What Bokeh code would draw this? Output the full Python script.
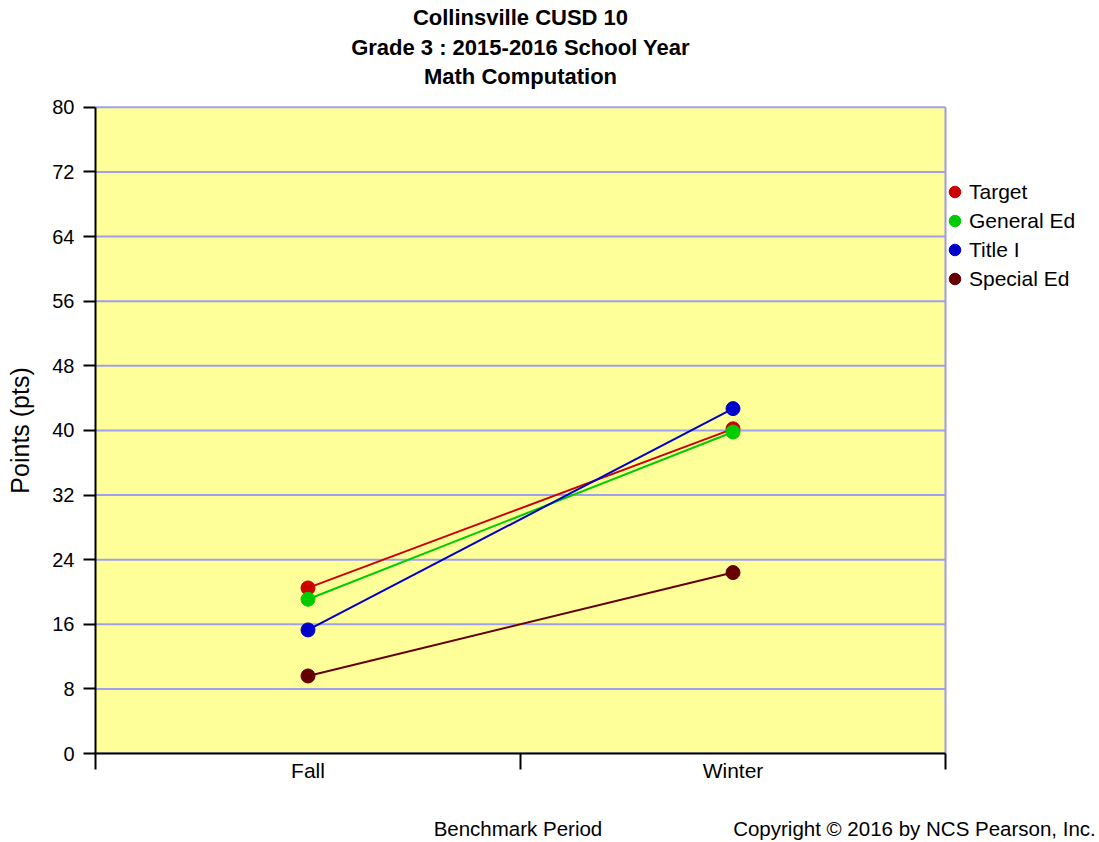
from bokeh.plotting import figure
from bokeh.models import (Range1d, FixedTicker, Legend, LegendItem, LinearAxis, Label,
                          BoxAnnotation)
from bokeh.embed import file_html
from bokeh.resources import INLINE

# ---- data ----
periods = ["Fall", "Winter"]
period_pos = [0.5, 1.5]
period_bounds = [0, 1, 2]
series_names = ["Target", "General Ed", "Title I", "Special Ed"]
target = [20.5, 40.2]
general_ed = [19.1, 39.8]
title_i = [15.3, 42.7]
special_ed = [9.6, 22.4]
series_colors = ["#cc0000", "#00cc00", "#0000cc", "#660000"]
y_ticks = [0, 8, 16, 24, 32, 40, 48, 56, 64, 72, 80]
title_lines = ["Collinsville CUSD 10", "Grade 3 : 2015-2016 School Year", "Math Computation"]
footer_texts = ["Benchmark Period", "Copyright \u00a9 2016 by NCS Pearson, Inc."]
y_title = "Points (pts)"

# ---- layout constants (not data) ----
X_MIN, X_MAX, Y_MIN, Y_MAX = 0, 2, 0, 80
FONT = "Liberation Sans"
W, H = 1099, 842
LEFT, BOTTOM = 95, 88
PLOT_W, PLOT_H = 850, 647          # size of the plotting area in px
x_view_max = X_MAX * (W - LEFT) / PLOT_W      # frame reaches right edge (legend room)
y_view_max = Y_MAX * (H - BOTTOM) / PLOT_H    # frame reaches top edge (title room)
footer_anchor = [0.994, 1.927]     # horizontal anchors of the footer texts, in x units
title_centers_px = [18, 47.5, 77]  # title line centres, px from the top

p = figure(width=W, height=H, x_range=Range1d(X_MIN, x_view_max),
           y_range=Range1d(Y_MIN, y_view_max),
           output_backend="svg", toolbar_location=None,
           min_border_left=LEFT, min_border_right=0, min_border_top=0, min_border_bottom=BOTTOM)
p.background_fill_color = "white"
p.border_fill_color = "white"
p.outline_line_color = None
p.xgrid.visible = False
p.ygrid.visible = False

# plotting area
p.add_layout(BoxAnnotation(left=X_MIN, right=X_MAX, bottom=Y_MIN, top=Y_MAX,
                           fill_color="#ffff99", fill_alpha=1, line_color=None, level="underlay"))
p.segment(x0=[X_MIN] * len(y_ticks), x1=[X_MAX] * len(y_ticks), y0=y_ticks, y1=y_ticks,
          line_color="#a0a0f0", line_width=2)
p.segment(x0=[X_MAX], x1=[X_MAX], y0=[Y_MIN], y1=[Y_MAX], line_color="#9999ee", line_width=2)

# titles
frame_h = H - BOTTOM
for txt, yc in zip(title_lines, title_centers_px):
    p.add_layout(Label(x=PLOT_W / 2, y=frame_h - yc, x_units="screen", y_units="screen",
                       text=txt, text_font=FONT, text_font_size="22px",
                       text_font_style="bold", text_color="black",
                       text_align="center", text_baseline="middle"))

xa = p.xaxis[0]
xa.bounds = (X_MIN, X_MAX)
xa.ticker = FixedTicker(ticks=period_pos, minor_ticks=period_bounds)
xa.major_label_overrides = {pos: name for pos, name in zip(period_pos, periods)}
xa.major_tick_line_color = None
xa.major_tick_out = 0
xa.minor_tick_in = 0
xa.minor_tick_out = 16
xa.minor_tick_line_color = "black"
xa.minor_tick_line_width = 2
xa.axis_line_color = "black"
xa.axis_line_width = 2
xa.major_label_text_font = FONT
xa.major_label_text_font_size = "21px"
xa.major_label_text_color = "black"
xa.major_label_standoff = -11

# footer row: "Benchmark Period" and copyright, as labels of a bare second axis
foot = LinearAxis(ticker=FixedTicker(ticks=footer_anchor, minor_ticks=[]),
                  major_label_overrides={pos: t for pos, t in zip(footer_anchor, footer_texts)})
foot.axis_line_color = None
foot.major_tick_line_color = None
foot.minor_tick_line_color = None
foot.major_tick_out = 0
foot.major_tick_in = 0
foot.minor_tick_out = 0
foot.minor_tick_in = 0
foot.major_label_text_font = FONT
foot.major_label_text_font_size = "20.5px"
foot.major_label_text_color = "black"
foot.major_label_standoff = 32
p.add_layout(foot, "below")

ya = p.yaxis[0]
ya.bounds = (Y_MIN, Y_MAX)
ya.ticker = FixedTicker(ticks=y_ticks)
ya.minor_tick_line_color = None
ya.major_tick_in = 0
ya.major_tick_out = 12
ya.major_tick_line_color = "black"
ya.major_tick_line_width = 2
ya.axis_line_color = "black"
ya.axis_line_width = 2
ya.major_label_text_font = FONT
ya.major_label_text_font_size = "20px"
ya.major_label_text_color = "black"
ya.major_label_standoff = 9

# y title, centred on the plotting area via a bare second axis
y_mid = (Y_MIN + Y_MAX) / 2
ylab = LinearAxis(ticker=FixedTicker(ticks=[y_mid], minor_ticks=[]),
                  major_label_overrides={y_mid: y_title})
ylab.axis_line_color = None
ylab.major_tick_line_color = None
ylab.minor_tick_line_color = None
ylab.major_tick_out = 0
ylab.major_tick_in = 0
ylab.minor_tick_out = 0
ylab.minor_tick_in = 0
ylab.major_label_orientation = "vertical"
ylab.major_label_text_font = FONT
ylab.major_label_text_font_size = "25px"
ylab.major_label_text_color = "black"
ylab.major_label_standoff = 15
p.add_layout(ylab, "left")

items = []
for name, vals, col in zip(series_names, [target, general_ed, title_i, special_ed], series_colors):
    p.line(period_pos, vals, line_color=col, line_width=2)
    r = p.scatter(period_pos, vals, size=14, fill_color=col, line_color=col)
    items.append(LegendItem(label=name, renderers=[r]))

legend = Legend(items=items, location=(845, 460))
legend.label_text_font = FONT
legend.label_text_font_size = "21px"
legend.label_text_color = "black"
legend.glyph_width = 29
legend.glyph_height = 29
legend.label_height = 20
legend.label_standoff = 0
legend.spacing = 0
legend.padding = 0
legend.margin = 0
legend.border_line_color = None
legend.background_fill_alpha = 0
p.add_layout(legend, "center")

open("out.html", "w").write(file_html(p, INLINE))
